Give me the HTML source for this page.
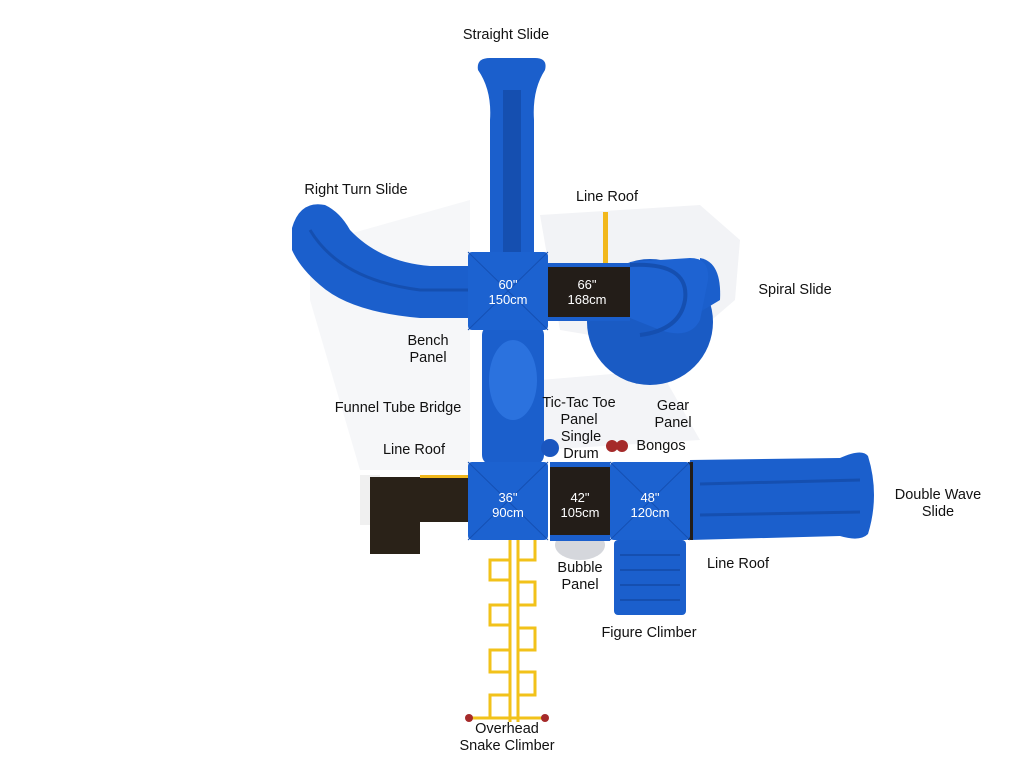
<!DOCTYPE html>
<html><head><meta charset="utf-8"><style>
html,body{margin:0;padding:0;background:#fff;width:1024px;height:768px;overflow:hidden}
svg text{font-family:"Liberation Sans",sans-serif}
.l{font-size:14.5px;fill:#111;text-anchor:middle}
.p{font-size:13px;fill:#fff;text-anchor:middle}
</style></head><body>
<svg width="1024" height="768" viewBox="0 0 1024 768" xmlns="http://www.w3.org/2000/svg">
<!-- shadows -->
<path d="M540 215 L700 205 L740 240 L735 300 L700 330 L620 340 L560 330 Z" fill="#f2f3f6"/>
<path d="M310 245 L470 200 L470 470 L360 470 L310 300 Z" fill="#f6f7f9"/>
<path d="M540 380 L660 370 L700 440 L540 450 Z" fill="#f3f4f7"/>
<!-- straight slide -->
<path d="M478 70 Q476 58 490 58 L535 58 Q548 58 545 70 Q532 90 534 120 L534 260 L490 260 L490 120 Q492 90 478 70 Z" fill="#1b5fcc"/>
<rect x="503" y="90" width="18" height="170" fill="#154fb0"/>
<!-- right turn slide -->
<path d="M292 228 Q300 200 325 205 Q340 212 350 230 Q380 262 430 266 L470 266 L470 318 L420 318 Q350 312 320 285 Q300 268 292 250 Z" fill="#1b5fcc"/>
<path d="M310 230 Q340 280 420 290 L470 290" stroke="#154fb0" stroke-width="3" fill="none"/>
<!-- line roof pole -->
<rect x="603" y="212" width="5" height="56" fill="#f2b81c"/>
<!-- spiral slide -->
<circle cx="650" cy="322" r="63" fill="#1a5bc4"/>
<path d="M700 258 Q722 262 720 300 L700 312 Z" fill="#1b5fcc"/>
<path d="M630 262 L690 258 Q710 258 708 280 L700 320 Q690 340 660 330 L630 318 Z" fill="#1e63d2"/>
<path d="M630 265 Q690 262 685 300 Q680 330 640 335" stroke="#154fb0" stroke-width="4" fill="none"/>
<!-- 66 deck -->
<rect x="548" y="267" width="82" height="50" fill="#231d18"/>
<rect x="548" y="263" width="82" height="4" fill="#1b5fcc"/>
<rect x="548" y="317" width="82" height="4" fill="#1b5fcc"/>
<!-- funnel tube -->
<rect x="482" y="325" width="62" height="140" rx="10" fill="#1b5fcc"/>
<ellipse cx="513" cy="380" rx="24" ry="40" fill="#2b72de"/>
<!-- 60 platform -->
<rect x="468" y="252" width="80" height="78" rx="4" fill="#1c62d0"/>
<path d="M468 252 L548 330 M548 252 L468 330" stroke="#1550b3" stroke-width="1"/>
<!-- left dark roof -->
<rect x="360" y="475" width="20" height="50" fill="#f0f0f0"/>
<rect x="370" y="477" width="98" height="45" fill="#2a2218"/>
<rect x="370" y="520" width="50" height="34" fill="#2a2218"/>
<rect x="420" y="475" width="48" height="3" fill="#f2b81c"/>
<!-- drum/bongos -->
<circle cx="550" cy="448" r="9" fill="#1a56bf"/>
<circle cx="612" cy="446" r="6" fill="#a52a2a"/>
<circle cx="622" cy="446" r="6" fill="#a52a2a"/>
<!-- 42 deck -->
<ellipse cx="580" cy="545" rx="25" ry="15" fill="#d5d7dc"/>
<rect x="550" y="464" width="60" height="76" fill="#231d18"/>
<rect x="550" y="462" width="60" height="5" fill="#1b5fcc"/>
<rect x="550" y="535" width="60" height="6" fill="#1b5fcc"/>
<!-- double wave slide -->
<path d="M690 460 L840 458 Q862 448 868 456 Q880 495 868 534 Q860 542 840 536 L690 540 Z" fill="#1b5fcc"/>
<path d="M700 484 L860 480 M700 515 L860 512" stroke="#154fb0" stroke-width="3"/>
<rect x="688" y="462" width="5" height="78" fill="#231d18"/>
<!-- figure climber -->
<rect x="614" y="540" width="72" height="75" rx="4" fill="#1b5fcc"/>
<g stroke="#154fb0" stroke-width="2" fill="none">
<path d="M620 555 h60 M620 570 h60 M620 585 h60 M620 600 h60"/>
</g>
<!-- 36 and 48 platforms -->
<rect x="468" y="462" width="80" height="78" rx="4" fill="#1c62d0"/>
<path d="M468 462 L548 540 M548 462 L468 540" stroke="#1550b3"/>
<rect x="610" y="462" width="80" height="78" rx="4" fill="#1c62d0"/>
<path d="M610 462 L690 540 M690 462 L610 540" stroke="#1550b3"/>
<!-- snake climber -->
<g stroke="#f2c21a" stroke-width="3" fill="none">
<line x1="510" y1="540" x2="510" y2="722"/>
<line x1="518" y1="540" x2="518" y2="722"/>
<path d="M510 560 H490 V580 H510 M518 560 H535 V540 M510 605 H490 V625 H510 M518 582 H535 V605 H518 M510 650 H490 V672 H510 M518 628 H535 V650 H518 M510 695 H490 V718 M518 672 H535 V695 H518"/>
<line x1="470" y1="718" x2="545" y2="718"/>
</g>
<circle cx="469" cy="718" r="4" fill="#a52a2a"/><circle cx="545" cy="718" r="4" fill="#a52a2a"/>
<!-- platform labels -->
<text class="p" x="508" y="289">60"</text><text class="p" x="508" y="304">150cm</text>
<text class="p" x="587" y="289">66"</text><text class="p" x="587" y="304">168cm</text>
<text class="p" x="508" y="502">36"</text><text class="p" x="508" y="517">90cm</text>
<text class="p" x="580" y="502">42"</text><text class="p" x="580" y="517">105cm</text>
<text class="p" x="650" y="502">48"</text><text class="p" x="650" y="517">120cm</text>
<!-- labels -->
<text class="l" x="506" y="39">Straight Slide</text>
<text class="l" x="356" y="194">Right Turn Slide</text>
<text class="l" x="607" y="201">Line Roof</text>
<text class="l" x="795" y="294">Spiral Slide</text>
<text class="l" x="428" y="345">Bench</text><text class="l" x="428" y="362">Panel</text>
<text class="l" x="398" y="412">Funnel Tube Bridge</text>
<text class="l" x="579" y="407">Tic-Tac Toe</text>
<text class="l" x="579" y="424">Panel</text>
<text class="l" x="581" y="441">Single</text>
<text class="l" x="581" y="458">Drum</text>
<text class="l" x="673" y="410">Gear</text><text class="l" x="673" y="427">Panel</text>
<text class="l" x="661" y="450">Bongos</text>
<text class="l" x="414" y="454">Line Roof</text>
<text class="l" x="938" y="499">Double Wave</text><text class="l" x="938" y="516">Slide</text>
<text class="l" x="580" y="572">Bubble</text><text class="l" x="580" y="589">Panel</text>
<text class="l" x="738" y="568">Line Roof</text>
<text class="l" x="649" y="637">Figure Climber</text>
<text class="l" x="507" y="733">Overhead</text>
<text class="l" x="507" y="750">Snake Climber</text>
</svg>
</body></html>
